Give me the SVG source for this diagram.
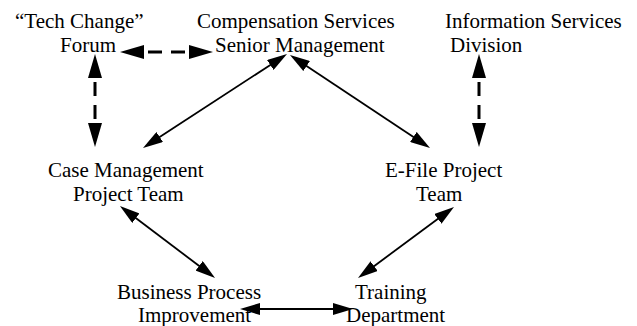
<svg xmlns="http://www.w3.org/2000/svg" width="637" height="326" viewBox="0 0 637 326">
<style>
text{font-family:"Liberation Serif","Times New Roman",serif;font-size:21px;fill:#000}
.s{stroke:#000;stroke-width:1.8;fill:none;marker-start:url(#ah);marker-end:url(#ah)}
.d{stroke:#000;stroke-width:3;fill:none;stroke-dasharray:14,9;stroke-dashoffset:18;marker-start:url(#dh);marker-end:url(#dh)}
</style>
<defs>
<marker id="ah" markerUnits="userSpaceOnUse" markerWidth="20" markerHeight="12" refX="1" refY="6" orient="auto-start-reverse"><path d="M0,0 L20,6 L0,12 z" fill="#000"/></marker>
<marker id="dh" markerUnits="userSpaceOnUse" markerWidth="24" markerHeight="14" refX="1" refY="7" orient="auto-start-reverse"><path d="M0,0 L24,7 L0,14 z" fill="#000"/></marker>
</defs>
<rect width="637" height="326" fill="#fff"/>
<g id="tech-change-forum"><text x="15" y="28">“Tech Change”</text><text x="60" y="52">Forum</text></g>
<g id="compensation-services"><text x="197" y="28">Compensation Services</text><text x="215" y="52">Senior Management</text></g>
<g id="information-services"><text x="445" y="28">Information Services</text><text x="450" y="52">Division</text></g>
<g id="case-management"><text x="48" y="177">Case Management</text><text x="73" y="201">Project Team</text></g>
<g id="efile-project"><text x="385" y="177">E-File Project</text><text x="416" y="201">Team</text></g>
<g id="business-process"><text x="117" y="299">Business Process</text><text x="138" y="322">Improvement</text></g>
<g id="training"><text x="355" y="299">Training</text><text x="346" y="322">Department</text></g>
<g id="connectors">
<line class="d" x1="143" y1="52" x2="190" y2="52"/>
<line class="d" x1="95" y1="77" x2="95" y2="124"/>
<line class="d" x1="479" y1="77" x2="479" y2="124"/>
<line class="s" x1="271.1" y1="64.4" x2="158.9" y2="137.6"/>
<line class="s" x1="305.8" y1="65.5" x2="414.2" y2="137.5"/>
<line class="s" x1="135.1" y1="217.5" x2="199.9" y2="266.5"/>
<line class="s" x1="438.7" y1="218.3" x2="373.3" y2="266.7"/>
<line class="s" x1="259" y1="309" x2="334" y2="309"/>
</g>
</svg>
